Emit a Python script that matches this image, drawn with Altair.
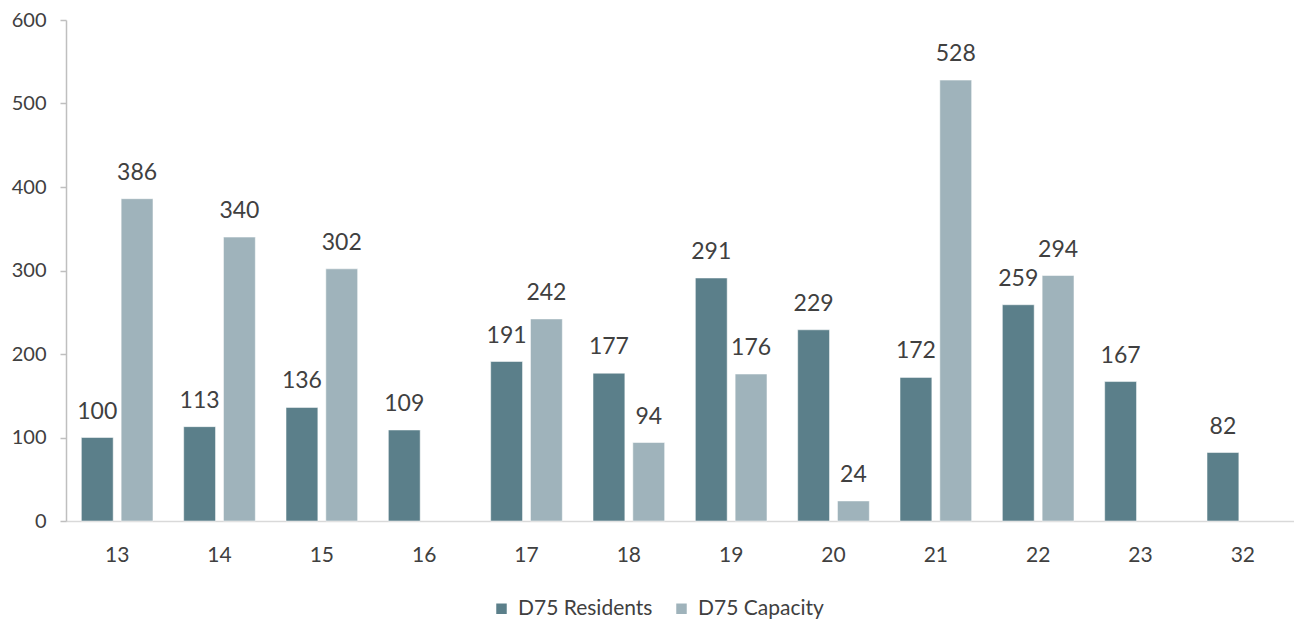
import altair as alt
import pandas as pd

categories = ["13", "14", "15", "16", "17", "18", "19", "20", "21", "22", "23", "32"]
residents = [100, 113, 136, 109, 191, 177, 291, 229, 172, 259, 167, 82]
capacity = [386, 340, 302, None, 242, 94, 176, 24, 528, 294, None, None]
series_names = ["D75 Residents", "D75 Capacity"]
colors = ["#5b7f8a", "#9fb3bb"]

rows = []
for c, r, k in zip(categories, residents, capacity):
    rows.append({"cat": c, "series": series_names[0], "value": r})
    if k is not None:
        rows.append({"cat": c, "series": series_names[1], "value": k})
df = pd.DataFrame(rows)

FONT = "Lato"
TXT = "#404040"

x = alt.X("cat:N", sort=categories, title=None,
          scale=alt.Scale(paddingInner=0.3, paddingOuter=0.15),
          axis=alt.Axis(labelAngle=0, ticks=False, labelPadding=23, labelFontSize=21,
                        labelColor=TXT, labelFont=FONT, domainColor="#d9d9d9", domainWidth=1.5))
xo = alt.XOffset("series:N", sort=series_names, scale=alt.Scale(paddingInner=0.2, domain=series_names))

base = alt.Chart(df)

bars = base.mark_bar(stroke="white", strokeWidth=0.5).encode(
    x=x,
    xOffset=xo,
    y=alt.Y("value:Q", title=None,
            scale=alt.Scale(domain=[0, 600], nice=False),
            axis=alt.Axis(values=[0, 100, 200, 300, 400, 500, 600], grid=False,
                          tickSize=6, tickColor="#bfbfbf", tickWidth=1.5,
                          domainColor="#bfbfbf", domainWidth=1.5,
                          labelPadding=14, labelFontSize=20, labelColor=TXT, labelFont=FONT)),
    color=alt.Color("series:N", sort=series_names,
                    scale=alt.Scale(domain=series_names, range=colors),
                    legend=alt.Legend(title=None, orient="none", direction="horizontal",
                                      legendX=425, legendY=578, symbolType="square",
                                      symbolSize=110, symbolStrokeWidth=0,
                                      labelFontSize=21, labelColor=TXT, labelFont=FONT,
                                      columnPadding=18, labelOffset=6)),
)

labels = base.mark_text(dy=-19, baseline="alphabetic", fontSize=23, font=FONT, color=TXT).encode(
    x=x,
    xOffset=xo,
    y="value:Q",
    text="value:Q",
)

chart = (bars + labels).properties(
    width=1228, height=501,
    autosize=alt.AutoSizeParams(type="none"),
    padding={"left": 58, "top": 12, "right": 0, "bottom": 100},
).configure_view(stroke=None)

chart.save("out.html", embed_options={"renderer": "svg", "actions": False})
